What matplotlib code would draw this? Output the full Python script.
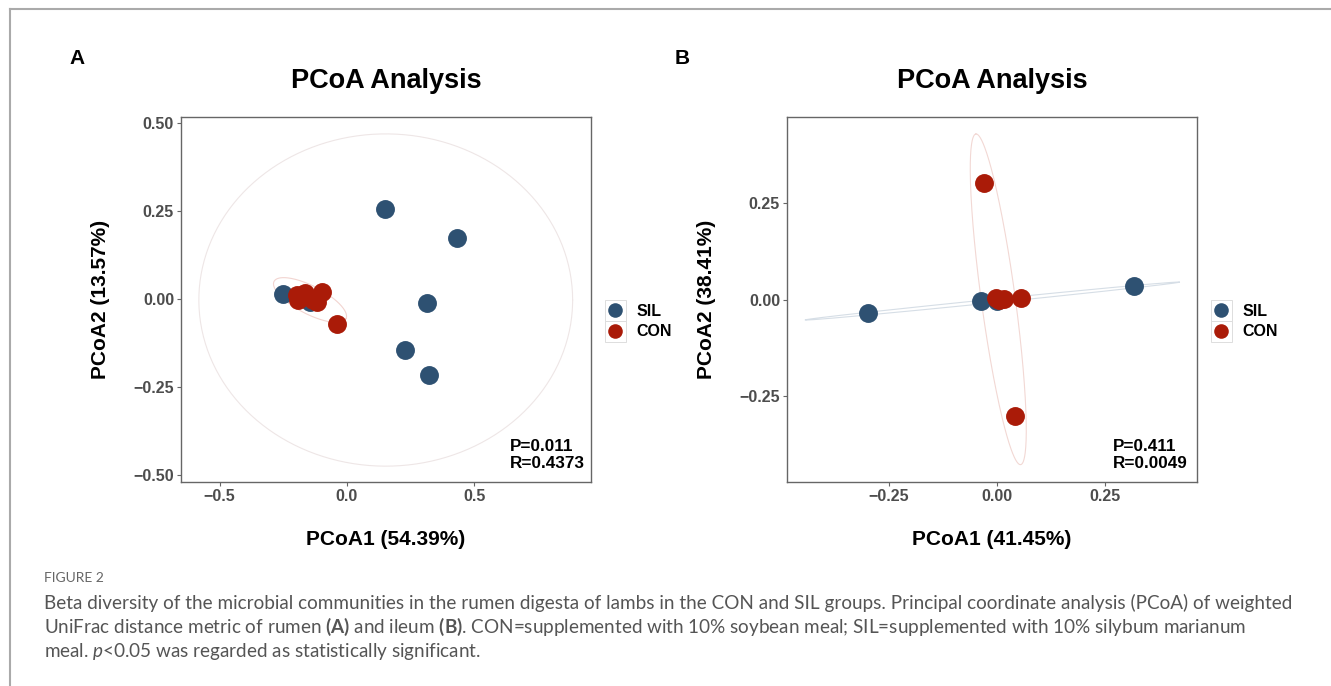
import numpy as np
import matplotlib
matplotlib.use("Agg")
import matplotlib.pyplot as plt
from matplotlib.lines import Line2D
from matplotlib.patches import Rectangle
from matplotlib.legend_handler import HandlerBase

# ---------------- data ----------------
groups = ["SIL", "CON"]
colors = {"SIL": "#2E5172", "CON": "#AA1B08"}

# Panel A (rumen)
A_sil_x = [0.149, 0.430, 0.315, 0.229, 0.323, -0.252, -0.145]
A_sil_y = [0.255, 0.172, -0.011, -0.145, -0.217, 0.013, -0.008]
A_con_x = [-0.197, -0.165, -0.193, -0.119, -0.099, -0.133, -0.040]
A_con_y = [0.011, 0.016, -0.003, -0.008, 0.021, -0.003, -0.072]
A_xlabel = "PCoA1 (54.39%)"
A_ylabel = "PCoA2 (13.57%)"
A_stats = "P=0.011\nR=0.4373"
A_xticks = [-0.5, 0.0, 0.5]
A_yticks = [-0.50, -0.25, 0.00, 0.25, 0.50]
# ellipses: centre, semi-axis vector 1, semi-axis vector 2
A_ell_sil = [(0.152, -0.003), (0.733, 0.0), (0.0, 0.472)]
A_ell_con = [(-0.145, -0.003), (0.141, -0.053), (0.0255, 0.0352)]

# Panel B (ileum)
B_sil_x = [-0.299, -0.037, -0.001, 0.317]
B_sil_y = [-0.035, -0.003, -0.002, 0.035]
B_con_x = [-0.030, 0.042, -0.003, 0.016, 0.055, 0.005]
B_con_y = [0.304, -0.300, 0.004, 0.002, 0.006, 0.000]
B_xlabel = "PCoA1 (41.45%)"
B_ylabel = "PCoA2 (38.41%)"
B_stats = "P=0.411\nR=0.0049"
B_xticks = [-0.25, 0.00, 0.25]
B_yticks = [-0.25, 0.00, 0.25]
B_ell_sil = [(-0.011, -0.003), (0.433, 0.049), (0.0003, -0.0047)]
B_ell_con = [(0.003, 0.0015), (-0.0518, 0.4285), (0.039, 0.006)]

title = "PCoA Analysis"
caption_head = "FIGURE 2"
caption_lines = [
    "Beta diversity of the microbial communities in the rumen digesta of lambs in the CON and SIL groups. Principal coordinate analysis (PCoA) of weighted",
    "UniFrac distance metric of rumen $\\mathbf{(A)}$ and ileum $\\mathbf{(B)}$. CON=supplemented with 10% soybean meal; SIL=supplemented with 10% silybum marianum",
    "meal. $\\mathit{p}$<0.05 was regarded as statistically significant.",
]

# ---------------- figure ----------------
W, H = 1331, 686
plt.rcParams['font.family'] = ['Liberation Sans', 'DejaVu Sans']
plt.rcParams['mathtext.fontset'] = 'custom'
plt.rcParams['mathtext.rm'] = 'Lato'
plt.rcParams['mathtext.it'] = 'Lato:italic'
plt.rcParams['mathtext.bf'] = 'Lato:bold'
fig = plt.figure(figsize=(W / 100, H / 100), dpi=100)


def fx(px):
    return px / W


def fy(py):
    return 1 - py / H


# outer frame
fig.add_artist(Line2D([fx(10), 1.0], [fy(8.5), fy(8.5)], color="#AAAAAA", lw=1.5))
fig.add_artist(Line2D([fx(10), fx(10)], [fy(8.5), 0.0], color="#AAAAAA", lw=1.5))


class BoxedDot(HandlerBase):
    def create_artists(self, legend, orig, xdescent, ydescent, width, height,
                       fontsize, trans):
        s = max(width, height)
        cx = -xdescent + width / 2
        cy = -ydescent + height / 2
        rect = Rectangle((cx - s / 2, cy - s / 2), s, s, facecolor="white",
                         edgecolor="#DDDDDD", lw=0.7, transform=trans)
        dot = Line2D([cx], [cy], marker="o", ms=10.5, ls="none",
                     color=orig.get_facecolor()[0], mec="none", transform=trans)
        return [rect, dot]


def draw_ellipse(ax, ell, color):
    c, u, v = ell
    t = np.linspace(0, 2 * np.pi, 300)
    xs = c[0] + np.cos(t) * u[0] + np.sin(t) * v[0]
    ys = c[1] + np.cos(t) * u[1] + np.sin(t) * v[1]
    ax.plot(xs, ys, color=color, lw=0.8, zorder=1)


def panel(left_px, letter, sx, sy, cx, cy, ell_s, ell_c, xlim, ylim,
          xticks, yticks, xfmt, yfmt, xlabel, ylabel, stats, stats_xy,
          ell_colors):
    ax = fig.add_axes([fx(left_px), fy(482), 410 / W, 365 / H])
    draw_ellipse(ax, ell_s, ell_colors[0])
    draw_ellipse(ax, ell_c, ell_colors[1])
    ax.scatter(sx, sy, s=185, color=colors["SIL"], zorder=3, linewidths=0, label="SIL")
    ax.scatter(cx, cy, s=185, color=colors["CON"], zorder=4, linewidths=0, label="CON")
    ax.set_xlim(*xlim)
    ax.set_ylim(*ylim)
    ax.set_xticks(xticks)
    ax.set_yticks(yticks)
    ax.set_xticklabels([xfmt.format(v).replace("-", "\u2212") for v in xticks])
    ax.set_yticklabels([yfmt.format(v).replace("-", "\u2212") for v in yticks])
    for sp in ax.spines.values():
        sp.set_color("#666666")
        sp.set_linewidth(1.0)
    ax.tick_params(colors="#666666", length=3, width=0.8, labelsize=11.5,
                   labelcolor="#4D4D4D", pad=2)
    for lab in ax.get_xticklabels() + ax.get_yticklabels():
        lab.set_fontweight("bold")
    ax.set_xlabel(xlabel, fontsize=15, fontweight="bold", labelpad=19)
    ax.set_ylabel(ylabel, fontsize=15, fontweight="bold", labelpad=17)
    ax.set_title(title, fontsize=19.5, fontweight="bold", pad=21)
    ax.text(stats_xy[0], stats_xy[1], stats, transform=ax.transAxes,
            fontsize=12.3, fontweight="bold", ha="left", va="bottom",
            linespacing=1.2)
    fig.text(fx(left_px - 112), fy(59), letter, fontsize=15, fontweight="bold",
             ha="left", va="center")
    fs = 11.5
    hh = (15.0 / fs - 0.245) / 0.65
    leg = ax.legend(loc="upper left", bbox_to_anchor=(1.034, 0.499),
                    frameon=False, fontsize=fs, handletextpad=0.65,
                    borderaxespad=0, borderpad=0, labelspacing=0.0,
                    handlelength=15.0 / fs, handleheight=hh,
                    handler_map={matplotlib.collections.PathCollection: BoxedDot()})
    for t in leg.get_texts():
        t.set_fontweight("bold")
    return ax


panel(181, "A", A_sil_x, A_sil_y, A_con_x, A_con_y, A_ell_sil, A_ell_con,
      (-0.651, 0.957), (-0.52, 0.517), A_xticks, A_yticks, "{:.1f}", "{:.2f}",
      A_xlabel, A_ylabel, A_stats, (0.802, 0.03), ("#EEE6E6", "#F2D4D0"))

panel(787, "B", B_sil_x, B_sil_y, B_con_x, B_con_y, B_ell_sil, B_ell_con,
      (-0.486, 0.463), (-0.472, 0.474), B_xticks, B_yticks, "{:.2f}", "{:.2f}",
      B_xlabel, B_ylabel, B_stats, (0.795, 0.03), ("#D6DEE6", "#F2D8D4"))

# caption
fig.text(fx(44), fy(578), caption_head, fontsize=10, color="#666666",
         family=["Lato", "DejaVu Sans"], va="center", ha="left")
for i, line in enumerate(caption_lines):
    fig.text(fx(44), fy(603 + 24 * i), line, fontsize=13.6, color="#555555",
             family=["Lato", "DejaVu Sans"], va="center", ha="left")

fig.savefig("out.png", dpi=100)
